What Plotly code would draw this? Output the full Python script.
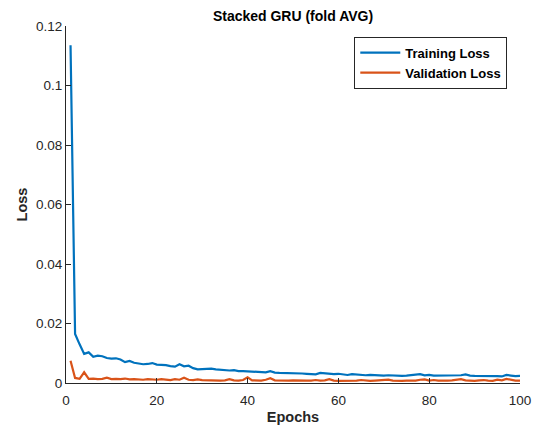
import plotly.graph_objects as go

epochs = list(range(1, 101))
train_loss = [
    0.1135, 0.0165, 0.0130, 0.0098, 0.0103, 0.0088, 0.0092, 0.0090, 0.0084, 0.0082,
    0.0083, 0.0079, 0.0070, 0.0074, 0.0068, 0.0065, 0.0063, 0.0064, 0.0067, 0.0062,
    0.0062, 0.0060, 0.0057, 0.0055, 0.0063, 0.0056, 0.0058, 0.0050, 0.0046, 0.0047,
    0.0047, 0.0048, 0.0046, 0.0044, 0.0043, 0.0042, 0.0043, 0.0040, 0.0040, 0.0039,
    0.0039, 0.0038, 0.0037, 0.0036, 0.0040, 0.0035, 0.0034, 0.0034, 0.0033, 0.0034,
    0.0032, 0.0032, 0.0031, 0.0030, 0.0029, 0.0034, 0.0032, 0.0031, 0.0030, 0.0031,
    0.0029, 0.0027, 0.0030, 0.0028, 0.0026, 0.0026, 0.0027, 0.0026, 0.0026, 0.0025,
    0.0026, 0.0025, 0.0025, 0.0024, 0.0025, 0.0026, 0.0027, 0.0030, 0.0026, 0.0027,
    0.0025, 0.0025, 0.0024, 0.0024, 0.0024, 0.0025, 0.0026, 0.0029, 0.0025, 0.0024,
    0.0024, 0.0025, 0.0024, 0.0024, 0.0023, 0.0022, 0.0027, 0.0025, 0.0023, 0.0024,
]
val_loss = [
    0.0075, 0.0017, 0.0014, 0.0036, 0.0014, 0.0015, 0.0013, 0.0014, 0.0018, 0.0013,
    0.0014, 0.0013, 0.0015, 0.0012, 0.0013, 0.0012, 0.0011, 0.0013, 0.0012, 0.0011,
    0.0013, 0.0011, 0.0010, 0.0013, 0.0011, 0.0018, 0.0011, 0.0010, 0.0012, 0.0010,
    0.0009, 0.0010, 0.0009, 0.0008, 0.0009, 0.0013, 0.0009, 0.0008, 0.0010, 0.0019,
    0.0009, 0.0008, 0.0008, 0.0011, 0.0016, 0.0009, 0.0008, 0.0007, 0.0008, 0.0009,
    0.0008, 0.0007, 0.0008, 0.0008, 0.0010, 0.0008, 0.0009, 0.0013, 0.0008, 0.0007,
    0.0007, 0.0008, 0.0007, 0.0008, 0.0010, 0.0008, 0.0007, 0.0008, 0.0009, 0.0008,
    0.0011, 0.0008, 0.0007, 0.0007, 0.0008, 0.0007, 0.0008, 0.0011, 0.0012, 0.0008,
    0.0010, 0.0008, 0.0007, 0.0008, 0.0009, 0.0012, 0.0013, 0.0009, 0.0008, 0.0007,
    0.0009, 0.0010, 0.0008, 0.0007, 0.0011, 0.0009, 0.0014, 0.0010, 0.0008, 0.0008,
]
x_ticks = [0, 20, 40, 60, 80, 100]
y_ticks = [0, 0.02, 0.04, 0.06, 0.08, 0.1, 0.12]
y_tick_labels = ["0", "0.02", "0.04", "0.06", "0.08", "0.1", "0.12"]

FONT = "Liberation Sans, Arial, sans-serif"
AX = "#262626"

fig = go.Figure()
fig.add_trace(go.Scatter(x=epochs, y=train_loss, mode="lines", name="<b>Training Loss</b>",
                         line=dict(color="#0072BD", width=2.2)))
fig.add_trace(go.Scatter(x=epochs, y=val_loss, mode="lines", name="<b>Validation Loss</b>",
                         line=dict(color="#D95319", width=2.2)))

fig.update_layout(
    width=539, height=426,
    margin=dict(l=66, r=19, t=26, b=43),
    paper_bgcolor="white", plot_bgcolor="white",
    font=dict(family=FONT, color=AX, size=13),
    title=dict(text="<b>Stacked GRU (fold AVG)</b>", x=0.5, xref="paper", xanchor="center",
               y=1 - 16.0 / 426, yref="container", yanchor="middle",
               font=dict(size=14, color="black", family=FONT)),
    legend=dict(x=0.972, y=0.97, xanchor="right", yanchor="top",
                bordercolor=AX, borderwidth=1, bgcolor="white",
                font=dict(size=13, color="black", family=FONT),
                tracegroupgap=0, itemwidth=40),
    showlegend=True,
)
fig.update_xaxes(range=[0, 100], tickvals=x_ticks, ticks="inside", ticklen=5,
                 tickcolor=AX, showline=True, linecolor=AX, linewidth=1,
                 showgrid=False, zeroline=False, mirror=False, automargin=False,
                 ticklabelstandoff=5,
                 tickfont=dict(size=13.5, color=AX),
                 title=dict(text="<b>Epochs</b>", font=dict(size=14.5, color=AX), standoff=4))
fig.update_yaxes(range=[0, 0.12], tickvals=y_ticks, ticktext=y_tick_labels, ticks="inside",
                 ticklen=5, tickcolor=AX, showline=True, linecolor=AX, linewidth=1,
                 showgrid=False, zeroline=False, mirror=False, automargin=False,
                 tickfont=dict(size=13.5, color=AX),
                 title=dict(text="<b>Loss</b>", font=dict(size=14.5, color=AX), standoff=4))

fig.write_html("out.html")
